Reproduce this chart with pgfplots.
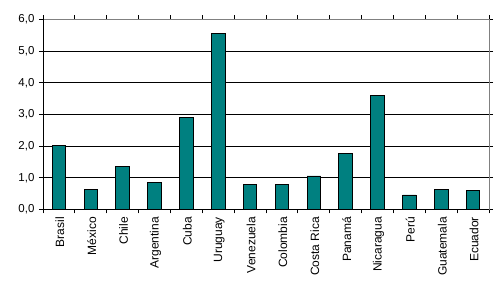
\documentclass[border=0pt]{standalone}
\usepackage{fontspec}
\setmainfont{Liberation Sans}
\usepackage{pgfplots}
\pgfplotsset{compat=1.18}
\definecolor{barteal}{HTML}{008080}
\definecolor{bordergray}{HTML}{808080}
\begin{document}
\begin{tikzpicture}[x=1pt,y=1pt]
\path[use as bounding box] (0,0) rectangle (502,286);
\begin{axis}[
  at={(43pt,76.5pt)}, anchor=south west,
  scale only axis, width=446pt, height=190pt,
  xmin=-0.5, xmax=13.5, ymin=0, ymax=6,
  xtick={0,...,13},
  xticklabels={Brasil,México,Chile,Argentina,Cuba,Uruguay,Venezuela,Colombia,Costa Rica,Panamá,Nicaragua,Perú,Guatemala,Ecuador},
  minor xtick={-0.5,0.5,...,13.5},
  ytick={0,1,...,6},
  major x tick style={draw=none},
  tick align=outside,
  major tick length=4pt, minor tick length=4pt,
  tick style={black, line width=0.8pt},
  xticklabel style={rotate=90, anchor=east, yshift=-1pt, font=\fontsize{12}{14}\selectfont},
  yticklabel style={font=\fontsize{11.5}{13}\selectfont, xshift=-1pt},
  /pgf/number format/.cd, fixed, fixed zerofill, precision=1, use comma, assume math mode=true,
  /pgfplots/.cd,
  ymajorgrids, grid style={black, line width=0.8pt},
  axis line style={draw=bordergray, line width=0.8pt},
  ybar, bar width=13.5pt,
  axis on top=false,
]
\addplot[fill=barteal, draw=black, line width=0.8pt] coordinates {
(0,2.03) (1,0.64) (2,1.37) (3,0.84) (4,2.91) (5,5.56) (6,0.80)
(7,0.80) (8,1.06) (9,1.78) (10,3.61) (11,0.46) (12,0.64) (13,0.61)};
\draw[black, line width=0.8pt] (rel axis cs:0,0) -- (rel axis cs:1,0);
\draw[black, line width=0.8pt] (rel axis cs:0,0) -- (rel axis cs:0,1);
\end{axis}
\end{tikzpicture}
\end{document}
